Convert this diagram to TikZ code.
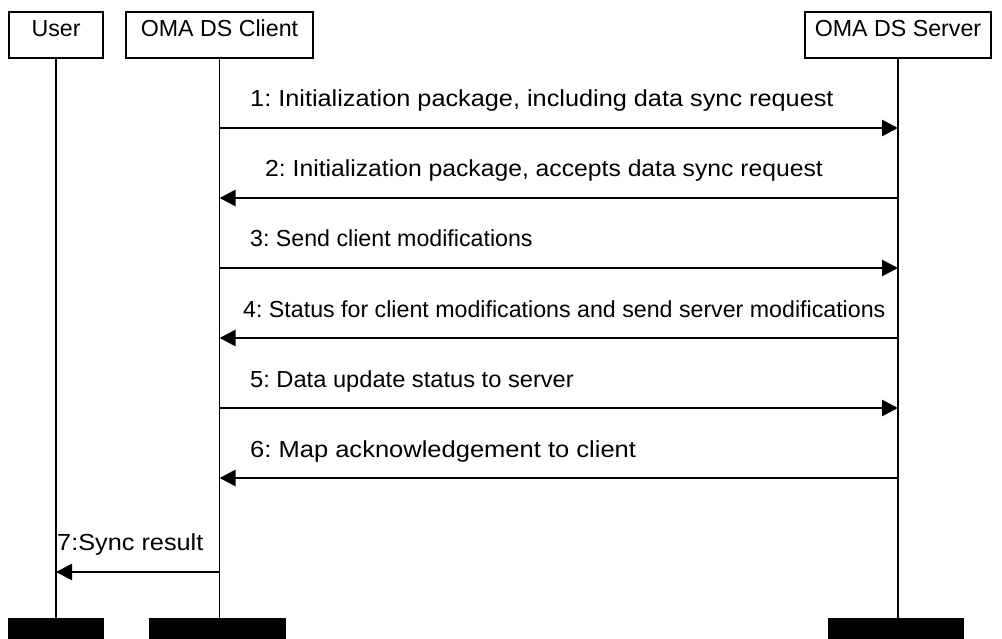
\documentclass[tikz,border=0pt]{standalone}
\usepackage{fontspec}
\setmainfont{Liberation Sans}
\usetikzlibrary{arrows.meta,positioning}
\frenchspacing

\begin{document}
\begin{tikzpicture}[
  x=1pt,y=-1pt,
  font=\fontsize{23.2}{28}\selectfont,
  actor/.style={draw,line width=1.5pt,inner xsep=0pt,inner ysep=0pt,
                text height=25pt,text depth=21pt,anchor=base},
  bar/.style={fill=black,inner sep=0pt,minimum height=21pt,anchor=north},
  life/.style={line width=1.4pt},
  msg/.style={line width=2.7pt,-{Triangle[length=16pt,width=16pt]}},
  lbl/.style={anchor=base west,inner sep=0pt},
  wide/.style={transform shape,xscale=#1}
]
\useasboundingbox (0,0) rectangle (1002,639);

% participants
\node[actor,minimum width=94pt]  (user)   at (56,37)    {User};
\node[actor,minimum width=187pt] (client) at (219.5,37) {OMA DS Client};
\node[actor,minimum width=186pt] (server) at (898,37)   {OMA DS Server};

\node[bar,minimum width=96pt]  (userend)   at (56,618)    {};
\node[bar,minimum width=137pt] (clientend) at (217.5,618) {};
\node[bar,minimum width=136pt] (serverend) at (896,618)   {};

\draw[life] (user.south)   -- (user.south |- userend.north);
\draw[life] (client.south) -- (client.south |- clientend.north);
\draw[life] (server.south) -- (server.south |- serverend.north);

% message rows
\coordinate (m1) at (0,128);
\coordinate (m2) at (0,198);
\coordinate (m3) at (0,268);
\coordinate (m4) at (0,338);
\coordinate (m5) at (0,408);
\coordinate (m6) at (0,478);
\coordinate (m7) at (0,572);

\draw[msg] (client.south |- m1) -- (server.south |- m1);
\draw[msg] (server.south |- m2) -- (client.south |- m2);
\draw[msg] (client.south |- m3) -- (server.south |- m3);
\draw[msg] (server.south |- m4) -- (client.south |- m4);
\draw[msg] (client.south |- m5) -- (server.south |- m5);
\draw[msg] (server.south |- m6) -- (client.south |- m6);
\draw[msg] (client.south |- m7) -- (user.south |- m7);

\node[lbl,wide=1.09]  (t1) at (250,107) {1: Initialization package, including data sync request};
\node[lbl,wide=1.065] (t2) at (265,177) {2: Initialization package, accepts data sync request};
\node[lbl]            (t3) at (250,247) {3: Send client modifications};
\node[lbl]            (t4) at (243,317) {4: Status for client modifications and send server modifications};
\node[lbl,wide=1.02]  (t5) at (250,387) {5: Data update status to server};
\node[lbl,wide=1.1]   (t6) at (250,457) {6: Map acknowledgement to client};
\node[lbl,wide=1.09]  (t7) at (57,550)  {7:Sync result};
\end{tikzpicture}
\end{document}
